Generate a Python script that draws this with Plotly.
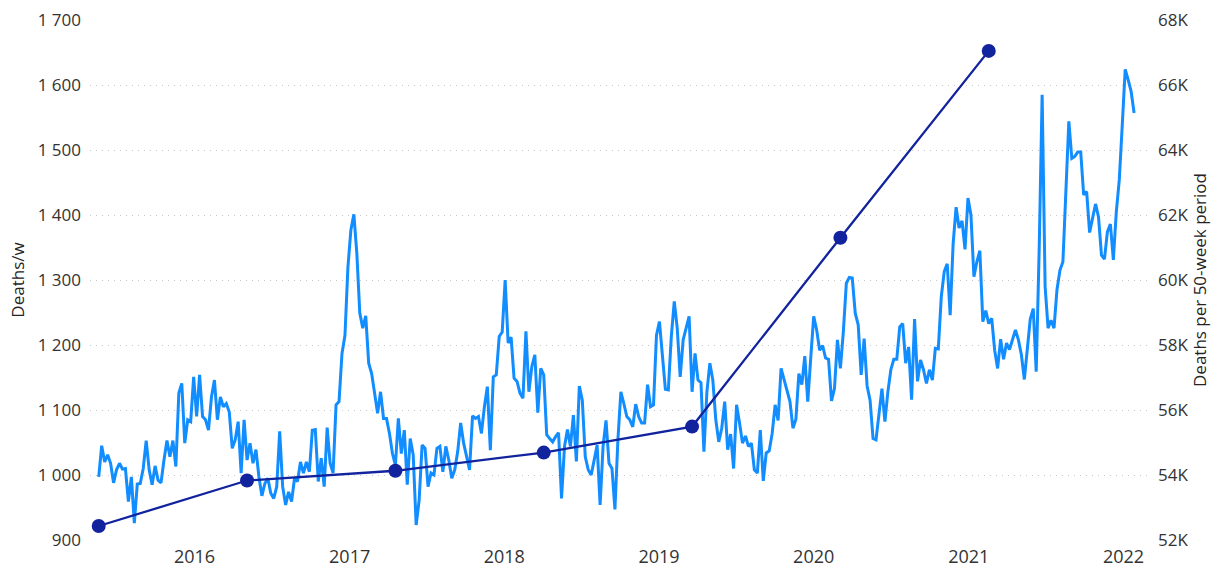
import pandas as pd
import plotly.graph_objects as go

# Weekly death counts, split into the seven consecutive 50-week periods
weeks_p1 = [997, 1045, 1020, 1031, 1018, 988, 1008, 1018, 1009, 1010,
            959, 997, 926, 986, 987, 1010, 1053, 1008, 985, 1014,
            992, 988, 1023, 1053, 1028, 1053, 1013, 1126, 1141, 1049,
            1085, 1082, 1151, 1090, 1154, 1090, 1085, 1069, 1120, 1146,
            1085, 1120, 1105, 1110, 1097, 1041, 1054, 1082, 1003, 1085]
weeks_p2 = [1023, 1049, 1018, 1039, 997, 968, 987, 995, 972, 964,
            982, 1067, 982, 954, 974, 959, 995, 990, 1020, 1003,
            1020, 1005, 1069, 1070, 990, 1026, 982, 1073, 1018, 1003,
            1108, 1113, 1187, 1215, 1320, 1377, 1401, 1341, 1249, 1226,
            1245, 1172, 1156, 1123, 1095, 1128, 1087, 1087, 1064, 1033]
weeks_p3 = [1015, 1087, 1033, 1069, 985, 1056, 1031, 923, 961, 1046,
            1041, 982, 1003, 1000, 1041, 1044, 1005, 1044, 1023, 995,
            1008, 1036, 1080, 1049, 1026, 1008, 1091, 1087, 1090, 1064,
            1105, 1136, 1038, 1151, 1154, 1213, 1220, 1300, 1203, 1212,
            1149, 1144, 1126, 1118, 1221, 1128, 1167, 1185, 1096, 1164]
weeks_p4 = [1154, 1062, 1056, 1051, 1059, 1065, 964, 1044, 1070, 1044,
            1092, 1021, 1137, 1115, 1028, 1008, 1000, 1023, 1046, 954,
            1044, 1084, 1018, 1010, 947, 1054, 1128, 1110, 1090, 1085,
            1074, 1109, 1090, 1080, 1080, 1139, 1105, 1108, 1215, 1236,
            1177, 1132, 1131, 1213, 1267, 1226, 1151, 1208, 1226, 1244]
weeks_p5 = [1128, 1187, 1146, 1142, 1036, 1128, 1172, 1146, 1085, 1051,
            1072, 1113, 1039, 1063, 1010, 1108, 1080, 1049, 1060, 1044,
            1049, 1008, 1003, 1069, 991, 1034, 1037, 1064, 1108, 1084,
            1164, 1146, 1127, 1113, 1072, 1086, 1156, 1139, 1183, 1113,
            1180, 1244, 1223, 1192, 1199, 1180, 1178, 1114, 1133, 1208]
weeks_p6 = [1164, 1221, 1295, 1304, 1303, 1249, 1231, 1154, 1210, 1137,
            1115, 1056, 1054, 1090, 1133, 1082, 1128, 1162, 1178, 1178,
            1228, 1233, 1172, 1197, 1116, 1240, 1144, 1177, 1162, 1141,
            1162, 1146, 1195, 1194, 1274, 1313, 1325, 1246, 1356, 1412,
            1380, 1391, 1347, 1426, 1400, 1305, 1328, 1345, 1236, 1253]
weeks_p7 = [1233, 1241, 1192, 1164, 1209, 1178, 1203, 1193, 1210, 1223,
            1208, 1185, 1147, 1190, 1240, 1256, 1159, 1346, 1585, 1290,
            1226, 1238, 1226, 1285, 1315, 1328, 1433, 1544, 1487, 1490,
            1497, 1497, 1431, 1436, 1373, 1397, 1417, 1397, 1338, 1332,
            1374, 1386, 1331, 1405, 1454, 1538, 1624, 1608, 1590, 1557]

# Total deaths in each 50-week period, plotted at the period's first week
period_totals = [52430, 53830, 54130, 54690, 55490, 61300, 67050]

first_week = "2015-05-20"
period_weeks = 50

left_ticks = [900, 1000, 1100, 1200, 1300, 1400, 1500, 1600, 1700]
right_ticks = [52000, 54000, 56000, 58000, 60000, 62000, 64000, 66000, 68000]
right_tick_text = ["52K", "54K", "56K", "58K", "60K", "62K", "64K", "66K", "68K"]

weekly = weeks_p1 + weeks_p2 + weeks_p3 + weeks_p4 + weeks_p5 + weeks_p6 + weeks_p7
week_dates = pd.date_range(first_week, periods=len(weekly), freq="7D")
period_dates = week_dates[::period_weeks][:len(period_totals)]

FONT = "Segoe UI, Open Sans, sans-serif"
TICK_COLOR = "#333333"
TITLE_COLOR = "#252423"

fig = go.Figure()

fig.add_trace(go.Scatter(
    x=week_dates, y=weekly, mode="lines", name="Deaths/w",
    line=dict(color="#118DFF", width=3),
))

fig.add_trace(go.Scatter(
    x=period_dates, y=period_totals, mode="lines+markers",
    name="Deaths per 50-week period", yaxis="y2",
    line=dict(color="#12239E", width=2.3),
    marker=dict(color="#12239E", size=14),
))

fig.update_layout(
    width=1212, height=571,
    margin=dict(l=90, r=65, t=20, b=31),
    paper_bgcolor="white", plot_bgcolor="white",
    showlegend=False,
    font=dict(family=FONT, color=TICK_COLOR),
    xaxis=dict(
        type="date", automargin=False,
        range=["2015-04-29 10:00", "2022-02-25 10:00"],
        tick0="2016-01-01", dtick="M12", tickformat="%Y",
        showgrid=False, zeroline=False, showline=False, ticks="",
        tickfont=dict(size=18, color=TICK_COLOR),
        ticklabelstandoff=4,
    ),
    yaxis=dict(
        automargin=False,
        range=[900, 1700],
        tickvals=left_ticks,
        ticktext=[f"{v:,}".replace(",", " ") for v in left_ticks],
        tickfont=dict(size=17, color=TICK_COLOR),
        showgrid=True, gridcolor="#C8C8C8", gridwidth=1, griddash="1px,5px",
        zeroline=False, showline=False, ticks="",
        ticklabelstandoff=8,
        title=dict(text="Deaths/w", font=dict(size=17, color=TITLE_COLOR), standoff=8),
    ),
    yaxis2=dict(
        automargin=False,
        overlaying="y", side="right",
        range=[52000, 68000],
        tickvals=right_ticks, ticktext=right_tick_text,
        tickfont=dict(size=17, color=TICK_COLOR),
        showgrid=False, zeroline=False, showline=False, ticks="",
        ticklabelstandoff=10,
        title=dict(text="Deaths per 50-week period",
                   font=dict(size=17, color=TITLE_COLOR), standoff=6),
    ),
)

fig.write_html("out.html")
